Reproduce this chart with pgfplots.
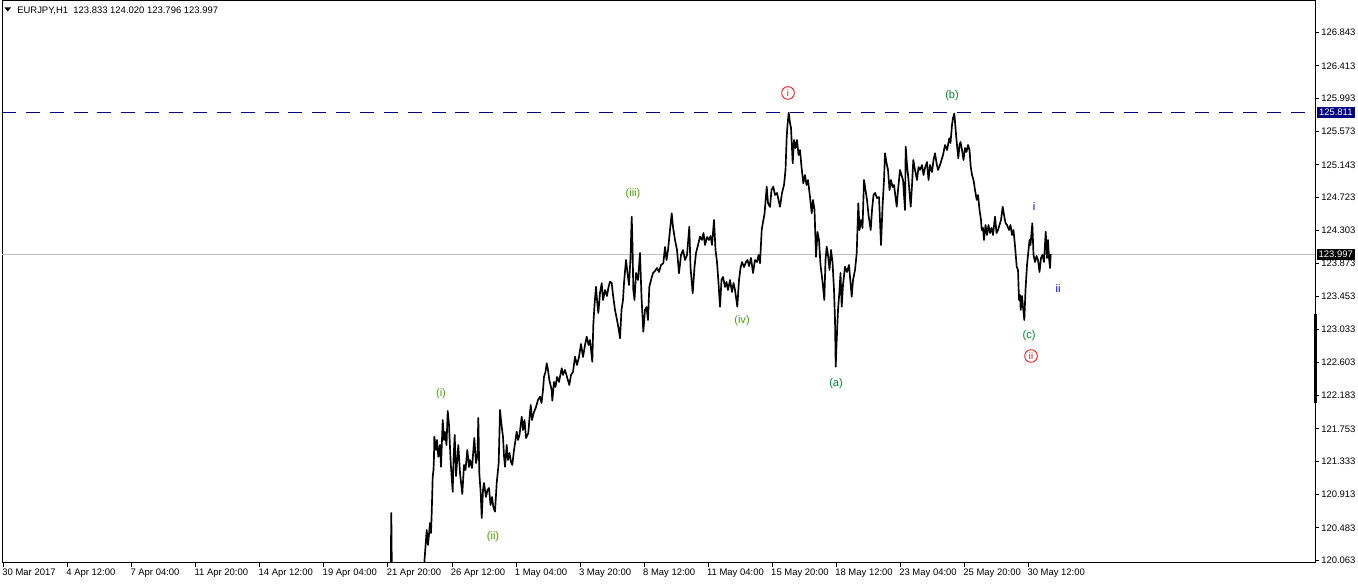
\documentclass[border=0pt]{standalone}
\usepackage{pgfplots}
\pgfplotsset{compat=1.18}
\usepackage{fontspec}
\setmainfont{Liberation Sans}

\definecolor{wavegreen}{RGB}{80,155,25}
\definecolor{abcgreen}{RGB}{0,135,50}
\definecolor{mtnavy}{RGB}{0,0,128}
\definecolor{mtsilver}{RGB}{192,192,192}

% hourly EURJPY path, x in chart pixels, y in price
\pgfplotstableread{
x p
380 119.60
390.5 119.65
391.3 120.675
392 119.70
410 119.60
422 119.85
424.3 120.033
426.7 120.457
428 120.264
430 120.547
431 120.418
431.7 120.675
432.7 121.141
433.5 121.227
434 121.397
434.3 121.654
436 121.483
437 121.612
438.3 121.397
440 121.547
441 121.269
442.7 121.868
444 121.612
445 121.714
446.5 121.547
447.7 121.984
449 121.804
450.7 121.317
452.7 120.948
453.5 121.355
454.7 121.676
456 121.150
458.3 121.547
460 121.188
462.3 120.919
464 121.291
465.5 121.227
467.3 121.483
469 121.265
470 121.355
472 121.252
474.3 121.637
476 121.317
477.5 121.419
478.3 121.894
479.3 121.188
480.7 120.932
481.7 120.611
483 120.970
484 121.060
486 120.880
487.5 120.970
489 120.996
490.5 120.778
492 120.880
493.5 120.739
495 120.692
496.7 121.060
498.7 121.317
500 121.997
501.5 121.804
503 121.650
504 121.406
505 121.269
506.7 121.547
508 121.355
509.5 121.445
511 121.329
512.3 121.291
514 121.483
515.5 121.612
516.7 121.718
518 121.612
519.5 121.676
521.7 121.911
523 121.740
524.5 121.868
526 121.637
528.3 121.701
529.5 121.894
530.7 122.061
532 121.868
534 121.971
536 122.035
538 122.125
540 122.167
541.5 122.086
543 122.253
544 122.424
545.5 122.484
546.7 122.596
548 122.510
549.3 122.381
551.7 122.253
552.3 122.116
554 122.356
555.5 122.292
557 122.420
559 122.356
561.7 122.532
563 122.446
565 122.510
567 122.420
569.3 122.317
571 122.446
573 122.484
575 122.680
577 122.574
579 122.676
581 122.843
583 122.676
585 122.830
586.7 122.937
588.5 122.830
590 122.895
592.3 122.616
593.3 123.087
594.5 123.344
596 123.578
597 123.408
598.3 123.241
600 123.498
601.7 123.622
603 123.408
605 123.536
607 123.459
608.5 123.575
610 123.643
611.7 123.626
613 123.472
615 123.280
617 123.151
618.5 123.049
620 122.916
621.5 123.280
623 123.408
624 123.626
626 123.921
627.5 123.754
629 123.600
630.5 123.947
631.7 124.477
632.5 124.113
633.3 123.536
634.5 123.408
636 123.754
638 123.664
640 124.011
641.5 123.446
643.3 123.001
645 123.280
646.5 123.318
648 123.151
649.3 123.575
651 123.664
653 123.754
655 123.780
657 123.818
659 123.767
661 123.857
663.3 123.879
665 124.088
666.5 123.921
668 124.049
670 124.306
671.7 124.520
673 124.344
675 124.178
677 124.049
679 123.750
681 123.985
683 124.049
685 123.921
687 123.985
689.3 124.348
690.5 123.831
692.7 123.494
694.5 123.831
696 124.011
698 124.113
700 124.220
702 124.178
703.5 124.267
705 124.113
707 124.216
709 124.178
710.5 124.229
712 124.113
714 124.434
715.5 124.049
717 123.895
718.3 123.664
720 123.322
721.5 123.664
723 123.703
725 123.575
726.5 123.639
728 123.536
730 123.664
732 123.510
733.5 123.626
735 123.536
737.3 123.322
739 123.664
740.5 123.818
742 123.895
744 123.831
746 123.895
747.5 123.921
749 123.844
751 123.947
753 123.754
755 123.921
757 123.895
758.5 123.985
760 123.879
761.7 124.306
763 124.409
764.5 124.511
766.7 124.861
768 124.652
770 124.601
771.5 124.819
773.3 124.861
775 124.755
777 124.781
780 124.605
782 124.781
784 124.883
785.5 125.076
786.7 125.503
787.5 125.653
788.7 125.811
790 125.679
791 125.615
792.7 125.162
794 125.461
795.5 125.358
797 125.461
798.5 125.268
800 125.332
801.5 125.114
803.3 124.905
805 125.012
806.5 124.883
808 124.947
810 124.729
811.7 124.520
813 124.691
814.5 124.563
816 123.963
817.5 124.280
819 124.178
820.5 123.857
822.7 123.622
824.3 123.408
825.5 123.921
826.7 124.092
828 123.985
829.5 123.793
831 124.049
832.5 123.895
834 123.536
835 123.151
835.7 122.552
836.7 122.895
838 123.280
839.3 123.498
840.5 123.754
841.7 123.322
843 123.600
845 123.835
847 123.767
849 123.857
851.7 123.450
853 123.664
855 123.793
856.7 124.011
858.3 124.648
859.5 124.306
861 124.435
862.5 124.332
864 124.947
865.5 124.819
867 124.691
868.5 124.498
870.7 124.306
872 124.563
873.5 124.755
875 124.781
877 124.716
879 124.729
881 124.113
882.5 124.601
884 124.947
885 125.290
886.5 125.166
888 125.076
889.5 124.819
891 124.947
892.5 124.858
894 124.883
896.7 124.605
898 124.819
900 125.076
901.5 125.012
903 124.947
905 124.563
905.7 125.375
907 125.140
908.5 124.947
910.7 124.605
912 124.883
913.3 125.204
915 125.076
917 124.947
918.5 125.114
920 125.076
922 125.140
923.5 125.012
925 125.101
927 125.178
928.5 124.947
930 125.140
932 125.050
933.5 125.204
935 125.290
936.5 125.166
938 125.076
940 125.140
941.5 125.204
943 125.268
945 125.396
947 125.332
949.3 125.482
950.5 125.422
952 125.653
953 125.743
954.3 125.800
955.5 125.615
956.5 125.461
958.3 125.226
959.5 125.396
960.5 125.435
962 125.332
963.5 125.204
965 125.358
966.5 125.307
968 125.396
969.5 125.332
970.7 125.118
972 125.012
973.5 124.947
975 124.819
976.7 124.692
978 124.755
979.5 124.563
981 124.435
981.7 124.306
983 124.332
984 124.178
985.5 124.370
987 124.242
988.5 124.370
990 124.267
991.5 124.332
993 124.242
995 124.477
996.5 124.267
998 124.306
999.5 124.370
1001 124.435
1002.7 124.605
1004 124.498
1005.5 124.396
1007 124.370
1009 124.306
1010.5 124.370
1012 124.242
1013.5 124.306
1015 124.101
1016.7 123.835
1018 123.793
1019 123.408
1020 123.472
1020.7 123.280
1022 123.459
1023 123.318
1024.3 123.151
1025.5 123.536
1027 123.857
1028 123.985
1029.5 124.178
1030.5 124.113
1032.3 124.392
1033.5 123.985
1035 123.895
1036.5 123.972
1038 123.921
1039.5 123.767
1041 123.947
1042.5 123.985
1044 123.895
1045.7 124.284
1047 123.947
1048 124.178
1049 123.947
1050 123.818
1050.7 123.997
}\pricedata

\begin{document}
\begin{tikzpicture}
\begin{axis}[
    scale only axis,
    width=984.75pt, height=421.5pt,
    at={(0,0)}, anchor=south west,
    xmin=2, xmax=1315,
    ymin=120.0335, ymax=127.244,
    axis line style={line width=0.75pt},
    xtick pos=bottom, ytick pos=right,
    tick align=outside,
    major tick length=3pt,
    tick style={black, line width=0.75pt},
    xtick={3.5,67.5,131.6,195.7,259.7,323.8,387.9,452.0,516.0,580.1,644.2,708.2,772.3,836.4,900.4,964.5,1028.6},
    xticklabels={30 Mar 2017,4 Apr 12:00,7 Apr 04:00,11 Apr 20:00,14 Apr 12:00,19 Apr 04:00,21 Apr 20:00,26 Apr 12:00,1 May 04:00,3 May 20:00,8 May 12:00,11 May 04:00,15 May 20:00,18 May 12:00,23 May 04:00,25 May 20:00,30 May 12:00},
    xticklabel style={anchor=north west, xshift=-2pt, yshift=-0.5pt, inner sep=1pt},
    ytick={120.063,120.483,120.913,121.333,121.753,122.183,122.603,123.033,123.453,123.873,124.303,124.723,125.143,125.573,125.993,126.413,126.843},
    yticklabels={120.063,120.483,120.913,121.333,121.753,122.183,122.603,123.033,123.453,123.873,124.303,124.723,125.143,125.573,125.993,126.413,126.843},
    yticklabel pos=right,
    yticklabel style={anchor=west, inner sep=1pt, xshift=0.5pt},
    ticklabel style={font=\fontsize{7.1}{8}\selectfont},
    /pgf/number format/assume math mode=true,
    clip mode=individual,
]
  \addplot[mtsilver, line width=0.75pt] coordinates {(2,123.997) (1315,123.997)};
  \addplot[mtnavy, line width=0.75pt, dash pattern=on 10.5pt off 7.4pt] coordinates {(2,125.811) (1315,125.811)};
  \addplot[black, line width=1.25pt, line join=round] table[x=x, y=p] {\pricedata};
\end{axis}

% overlay in screen pixels of the terminal window
\begin{scope}[x=0.75pt, y=-0.75pt, shift={(-1.5pt,422.25pt)}]
  \fill[black] (4.5,7.5) -- (11,7.5) -- (7.75,11.5) -- cycle;
  \node[anchor=west, inner sep=0, font=\fontsize{7.1}{8}\selectfont] at (17,10.5)
    {EURJPY,H1\ \ 123.833 124.020 123.796 123.997};

  \fill[black] (1313.5,314) rectangle (1317,403);

  \node[fill=mtnavy, text=white, inner sep=0, minimum width=28.5pt, minimum height=8.5pt,
        anchor=west, font=\fontsize{7.1}{8}\selectfont] at (1316.5,112.3) {125.811};
  \node[fill=black, text=white, inner sep=0, minimum width=28.5pt, minimum height=8.5pt,
        anchor=west, font=\fontsize{7.1}{8}\selectfont] at (1316.5,254.5) {123.997};

  \begin{scope}[every node/.style={font=\fontsize{8.3}{10}\selectfont, inner sep=0}]
    \node[text=wavegreen] at (441,394) {(i)};
    \node[text=wavegreen] at (493,537) {(ii)};
    \node[text=wavegreen] at (633,194) {(iii)};
    \node[text=wavegreen] at (742,321) {(iv)};
    \node[text=abcgreen] at (836,384) {(a)};
    \node[text=abcgreen] at (952,96) {(b)};
    \node[text=abcgreen] at (1029,336) {(c)};
    \node[text=blue] at (1034,207) {i};
    \node[text=blue] at (1058,288) {ii};
    \node[circle, draw=red, text=red, line width=0.6pt, minimum size=9.5pt,
          font=\fontsize{7}{8}\selectfont] at (788,93) {i};
    \node[circle, draw=red, text=red, line width=0.6pt, minimum size=9.5pt,
          font=\fontsize{7}{8}\selectfont] at (1031,356) {ii};
  \end{scope}
\end{scope}

\pgfresetboundingbox
\path[use as bounding box] (-1.5pt,-15.75pt) rectangle (1017pt,422.25pt);
\end{tikzpicture}
\end{document}
